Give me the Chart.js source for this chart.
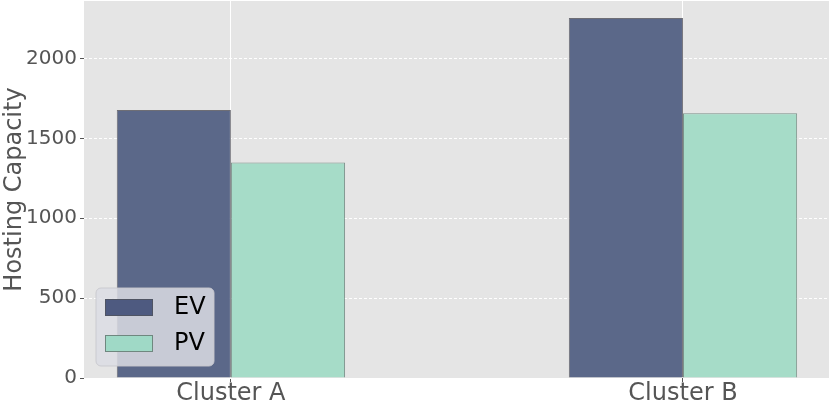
<!DOCTYPE html>
<html>
<head>
<meta charset="utf-8">
<script src="https://cdn.jsdelivr.net/npm/chart.js@4"></script>
<style>
  html, body { margin: 0; padding: 0; background: #fff; }
  #wrap { width: 830px; height: 401px; }
</style>
</head>
<body>
<div id="wrap"><canvas id="chart" width="830" height="401"></canvas></div>
<script>
// данные
const categories = ["Cluster A", "Cluster B"];
const evValues   = [1677, 2253];
const pvValues   = [1349, 1658];
const yTicks     = [0, 500, 1000, 1500, 2000];
const yMax       = 2360;
const seriesNames = ["EV", "PV"];

const FONT = "'DejaVu Sans', sans-serif";
const EV_COLOR = "#5b6889";
const PV_COLOR = "#a6dcc8";

// серый фон области графика (ggplot)
const plotBg = {
  id: "plotBg",
  beforeDraw(chart) {
    const { ctx, chartArea: a } = chart;
    ctx.save();
    ctx.fillStyle = "#e5e5e5";
    ctx.fillRect(a.left, a.top, a.right - a.left, a.bottom - a.top);
    ctx.restore();
  }
};

// легенда внутри графика, слева снизу
const innerLegend = {
  id: "innerLegend",
  afterDatasetsDraw(chart) {
    const { ctx, chartArea: a } = chart;
    const x = a.left + 12, y = a.bottom - 90, w = 118, h = 78, r = 5;
    ctx.save();
    ctx.beginPath();
    ctx.roundRect(x, y, w, h, r);
    ctx.fillStyle = "rgba(220,221,228,0.85)";
    ctx.fill();
    ctx.strokeStyle = "rgba(200,200,205,0.9)";
    ctx.lineWidth = 1;
    ctx.stroke();

    const patches = [["#4e5a80", seriesNames[0]], ["#9fd9c6", seriesNames[1]]];
    patches.forEach(([col, name], i) => {
      const py = y + 11 + i * 36;
      ctx.fillStyle = col;
      ctx.fillRect(x + 9, py, 48, 17);
      ctx.strokeStyle = "rgba(80,80,80,0.6)";
      ctx.strokeRect(x + 9.5, py + 0.5, 47, 16);
      ctx.fillStyle = "#000";
      ctx.font = "24px " + FONT;
      ctx.textBaseline = "middle";
      ctx.fillText(name, x + 78, py + 9);
    });
    ctx.restore();
  }
};

const toPoints = vals => vals.map((v, i) => ({ x: i, y: v }));

new Chart(document.getElementById("chart"), {
  type: "bar",
  data: {
    datasets: [
      { label: seriesNames[0], data: toPoints(evValues), backgroundColor: EV_COLOR,
        borderColor: "rgba(60,60,70,0.7)", borderWidth: 1 },
      { label: seriesNames[1], data: toPoints(pvValues), backgroundColor: PV_COLOR,
        borderColor: "rgba(80,110,100,0.7)", borderWidth: 1 },
    ],
  },
  options: {
    responsive: false,
    devicePixelRatio: 1,
    animation: false,
    categoryPercentage: 0.505,
    barPercentage: 1,
    layout: { padding: { top: 1, right: 1, left: 0, bottom: 0 } },
    plugins: { legend: { display: false }, tooltip: { enabled: false } },
    scales: {
      x: {
        type: "linear",
        offset: false,
        min: -0.325,
        max: 1.323,
        afterBuildTicks: s => { s.ticks = categories.map((_, i) => ({ value: i })); },
        afterFit: s => { s.height = 23; s.paddingLeft = 0; s.paddingRight = 0; },
        ticks: {
          callback: v => categories[v] ?? "",
          color: "#555",
          font: { family: FONT, size: 24 },
          padding: -3,
          maxRotation: 0,
          autoSkip: false,
        },
        grid: { offset: false, color: "#ffffff", lineWidth: 1, tickColor: "#555", tickLength: 4 },
        border: { display: false },
      },
      y: {
        min: 0,
        max: yMax,
        afterBuildTicks: s => { s.ticks = yTicks.map(v => ({ value: v })); },
        afterFit: s => { s.width = 84; s.paddingTop = 0; s.paddingBottom = 0; },
        ticks: {
          callback: v => String(v),
          color: "#555",
          font: { family: FONT, size: 20 },
          padding: 3,
        },
        grid: { color: "#ffffff", lineWidth: 1, tickColor: "#555", tickLength: 4,
                tickBorderDash: [], borderDash: [3, 2] },
        border: { display: false, dash: [3, 2] },
        title: {
          display: true,
          text: "Hosting Capacity",
          color: "#555",
          font: { family: FONT, size: 24 },
          padding: 0,
        },
      },
    },
  },
  plugins: [plotBg, innerLegend],
});
</script>
</body>
</html>
